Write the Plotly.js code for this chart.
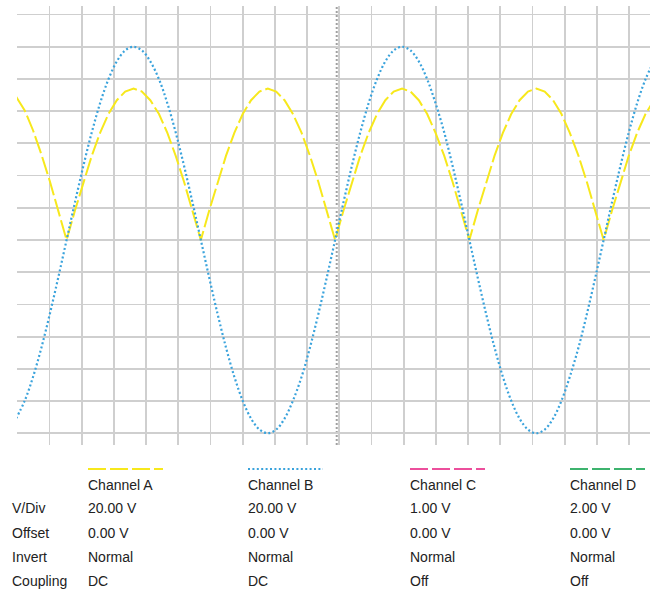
<!DOCTYPE html>
<html>
<head>
<meta charset="utf-8">
<script src="https://cdn.plot.ly/plotly-3.0.1.min.js"></script>
<style>
  html, body { margin: 0; padding: 0; background: #ffffff; }
  #chart { width: 650px; height: 592px; }
</style>
</head>
<body>
<div id="chart"></div>
<script>
// Time in screen divisions
const timeDiv = [
  -0.04, 0.23, 0.49, 0.75, 1.01, 1.27,
  1.53, 1.79, 2.05, 2.31, 2.57, 2.83, 3.09, 3.35, 3.61, 3.87, 4.13, 4.40, 4.66, 4.92, 5.18, 5.44, 5.70,
  5.96, 6.22, 6.48, 6.74, 7.00, 7.26, 7.52, 7.78, 8.04, 8.30, 8.56, 8.83, 9.09, 9.35, 9.61, 9.87,
  10.13, 10.39, 10.65, 10.91, 11.17, 11.43, 11.69, 11.95, 12.21, 12.47, 12.73, 12.99, 13.26, 13.52, 13.78, 14.04,
  14.30, 14.56, 14.82, 15.08, 15.34, 15.60, 15.86, 16.12, 16.38, 16.64, 16.90, 17.16, 17.43, 17.69, 17.95, 18.21,
  18.47, 18.73, 18.99, 19.25, 19.51, 19.77
];
// Channel B (V)
const channelB = [
  -110.9, -99.8, -84.9, -66.7, -45.9, -23.4,
  0, 23.4, 45.9, 66.7, 84.9, 99.8, 110.9, 117.7, 120, 117.7, 110.9, 99.8, 84.9, 66.7, 45.9, 23.4, 0,
  -23.4, -45.9, -66.7, -84.9, -99.8, -110.9, -117.7, -120, -117.7, -110.9, -99.8, -84.9, -66.7, -45.9, -23.4, 0,
  23.4, 45.9, 66.7, 84.9, 99.8, 110.9, 117.7, 120, 117.7, 110.9, 99.8, 84.9, 66.7, 45.9, 23.4, 0,
  -23.4, -45.9, -66.7, -84.9, -99.8, -110.9, -117.7, -120, -117.7, -110.9, -99.8, -84.9, -66.7, -45.9, -23.4, 0,
  23.4, 45.9, 66.7, 84.9, 99.8, 110.9
];
// Channel A (V)
const channelA = [
  89.0, 80.5, 68.0, 53.0, 36.5, 18.5,
  0, 18.3, 36.0, 52.2, 66.5, 78.2, 86.8, 92.2, 94, 92.2, 86.8, 78.2, 66.5, 52.2, 36.0, 18.3, 0,
  18.3, 36.0, 52.2, 66.5, 78.2, 86.8, 92.2, 94, 92.2, 86.8, 78.2, 66.5, 52.2, 36.0, 18.3, 0,
  18.3, 36.0, 52.2, 66.5, 78.2, 86.8, 92.2, 94, 92.2, 86.8, 78.2, 66.5, 52.2, 36.0, 18.3, 0,
  18.3, 36.0, 52.2, 66.5, 78.2, 86.8, 92.2, 94, 92.2, 86.8, 78.2, 66.5, 52.2, 36.0, 18.3, 0,
  18.3, 36.0, 52.2, 66.5, 78.2, 86.8
];
const triggerTime = 9.92;

const channelNames = ["Channel A", "Channel B", "Channel C", "Channel D"];
const channelColors = ["#f7e81c", "#3aa3dc", "#ec4f9c", "#3db36e"];
const channelDash = ["18px,4px", "2px,2.4px", "18px,4px", "18px,4px"];
const rowLabels = ["V/Div", "Offset", "Invert", "Coupling"];
const vDiv = ["20.00 V", "20.00 V", "1.00 V", "2.00 V"];
const offsets = ["0.00 V", "0.00 V", "0.00 V", "0.00 V"];
const inverts = ["Normal", "Normal", "Normal", "Normal"];
const couplings = ["DC", "DC", "Off", "Off"];

// layout geometry (pixels)
const L = 17, T = 6, W = 633, H = 439;
const px = x => (x - L) / W;
const py = y => (T + H - y) / H;

const traces = [
  { x: timeDiv, y: channelA, type: "scatter", mode: "lines", name: "Channel A",
    line: { color: channelColors[0], width: 2, dash: channelDash[0] }, hoverinfo: "skip" },
  { x: timeDiv, y: channelB, type: "scatter", mode: "lines", name: "Channel B",
    line: { color: channelColors[1], width: 2.2, dash: channelDash[1], shape: "spline" }, hoverinfo: "skip" }
];

const colX = [86, 246, 408, 568];
const rowY = [508.5, 532.5, 556.5, 580.5];
const font = { family: "Liberation Sans, Arial, sans-serif", size: 14, color: "#222222" };

const annotations = [];
const shapes = [
  { type: "line", xref: "x", yref: "paper", x0: triggerTime, x1: triggerTime, y0: 0, y1: 1,
    line: { color: "#a0a0a0", width: 2, dash: "2px,2px" }, layer: "below" }
];
const cols = [vDiv, offsets, inverts, couplings];
rowLabels.forEach((r, i) => {
  annotations.push({ xref: "paper", yref: "paper", x: px(10), y: py(rowY[i]), text: r,
    showarrow: false, xanchor: "left", yanchor: "middle", font });
});
channelNames.forEach((c, j) => {
  shapes.push({ type: "line", xref: "paper", yref: "paper",
    x0: px(colX[j] + 2), x1: px(colX[j] + 77), y0: py(469), y1: py(469),
    line: { color: channelColors[j], width: 2, dash: channelDash[j] } });
  annotations.push({ xref: "paper", yref: "paper", x: px(colX[j]), y: py(485), text: c,
    showarrow: false, xanchor: "left", yanchor: "middle", font });
  cols.forEach((arr, i) => {
    annotations.push({ xref: "paper", yref: "paper", x: px(colX[j]), y: py(rowY[i]), text: arr[j],
      showarrow: false, xanchor: "left", yanchor: "middle", font });
  });
});

const layout = {
  width: 650, height: 592,
  margin: { l: L, r: 650 - L - W, t: T, b: 592 - T - H, pad: 0 },
  paper_bgcolor: "#ffffff", plot_bgcolor: "#ffffff",
  showlegend: false,
  xaxis: { range: [-0.01, 19.65], dtick: 1, tick0: 0, showgrid: true, gridcolor: "#cfcfcf", gridwidth: 1.8,
    zeroline: false, showticklabels: false, ticks: "", showline: false, fixedrange: true },
  yaxis: { range: [-127.3, 145.3], dtick: 20, tick0: 0, showgrid: true, gridcolor: "#cfcfcf", gridwidth: 1.8,
    zeroline: false, showticklabels: false, ticks: "", showline: false, fixedrange: true },
  shapes, annotations
};

Plotly.newPlot("chart", traces, layout, { displayModeBar: false, staticPlot: true });
</script>
</body>
</html>
